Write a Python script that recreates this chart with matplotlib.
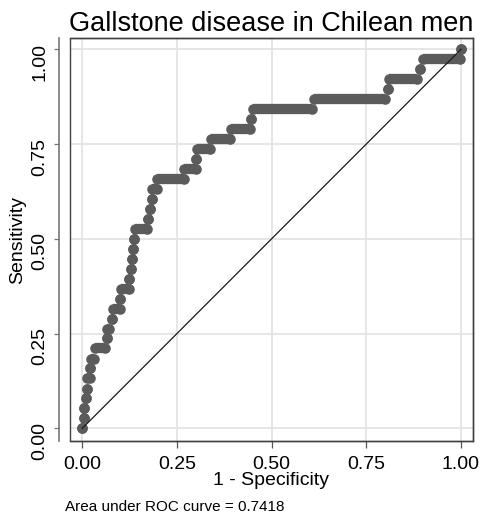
import matplotlib
matplotlib.use("Agg")
import matplotlib.pyplot as plt
from matplotlib.patches import Rectangle

plt.rcParams['font.family'] = ['Liberation Sans', 'DejaVu Sans']

# ROC points: one row per sensitivity level, with the 1-specificity span at that level
sensitivity = [0.000, 0.026, 0.053, 0.079, 0.105, 0.132, 0.158, 0.184, 0.211, 0.237,
               0.263, 0.289, 0.316, 0.342, 0.368, 0.395, 0.421, 0.447, 0.474, 0.500,
               0.526, 0.553, 0.579, 0.605, 0.632, 0.658, 0.684, 0.711, 0.737, 0.763,
               0.789, 0.816, 0.842, 0.868, 0.895, 0.921, 0.947, 0.974, 1.000]
fpr_start = [0.000, 0.004, 0.005, 0.009, 0.012, 0.013, 0.020, 0.024, 0.034, 0.066,
             0.066, 0.079, 0.080, 0.100, 0.103, 0.124, 0.128, 0.132, 0.135, 0.137,
             0.138, 0.173, 0.178, 0.183, 0.184, 0.197, 0.268, 0.301, 0.303, 0.340,
             0.393, 0.446, 0.451, 0.611, 0.806, 0.809, 0.893, 0.899, 1.000]
fpr_end = [0.000, 0.004, 0.005, 0.009, 0.012, 0.019, 0.020, 0.031, 0.061, 0.066,
           0.070, 0.079, 0.100, 0.100, 0.124, 0.124, 0.128, 0.132, 0.135, 0.137,
           0.171, 0.173, 0.178, 0.183, 0.196, 0.268, 0.300, 0.301, 0.338, 0.390,
           0.443, 0.446, 0.607, 0.800, 0.806, 0.884, 0.893, 0.998, 1.000]
ref_line = [0, 1]
ticks = [0.00, 0.25, 0.50, 0.75, 1.00]
tick_labels = ['0.00', '0.25', '0.50', '0.75', '1.00']
auc_text = 'Area under ROC curve = 0.7418'

dot = '#5b5b5b'
fig = plt.figure(figsize=(4.82, 5.17), dpi=100)
ax = fig.add_axes([70/482, 76/517, 402.7/482, 402.7/517])

ax.grid(True, color='#e2e2e2', linewidth=1.2)
ax.set_axisbelow(True)

# thick runs for horizontal steps, then dots at the ends
ax.hlines(sensitivity, fpr_start, fpr_end, colors=dot, linewidth=7.4, zorder=3)
ax.plot(fpr_start, sensitivity, 'o', color=dot, ms=7.6, mec='none', zorder=3)
ax.plot(fpr_end, sensitivity, 'o', color=dot, ms=7.6, mec='none', zorder=3)
ax.plot(ref_line, ref_line, color='#1a1a1a', linewidth=0.9, zorder=4)

ax.set_xlim(-0.0325, 1.031)
ax.set_ylim(-0.0335, 1.029)
ax.set_xticks(ticks)
ax.set_xticklabels(tick_labels)
ax.set_yticks(ticks)
ax.set_yticklabels(tick_labels, va='center')
ax.tick_params(axis='x', length=5, width=0.9, color='#555555', pad=6, labelsize=14)
ax.tick_params(axis='y', length=3.5, width=0.9, color='#777777', pad=4, labelsize=14,
               labelrotation=90)

for s in ['top', 'right', 'bottom']:
    ax.spines[s].set_color('#404040')
    ax.spines[s].set_linewidth(1.0)
ax.spines['left'].set_position(('outward', 8))
ax.spines['left'].set_color('#777777')
ax.spines['left'].set_linewidth(1.2)
ax.add_patch(Rectangle((0, 0), 1, 1, transform=ax.transAxes, fill=False,
                       edgecolor='#404040', linewidth=1.0, clip_on=False, zorder=5))

ax.set_xlabel('1 - Specificity', fontsize=14, labelpad=-1)
ax.set_ylabel('Sensitivity', fontsize=14, labelpad=4)
ax.set_title('Gallstone disease in Chilean men', fontsize=19.5, pad=5)
fig.text(65/482, 1 - 507/517, auc_text, fontsize=11, va='center', ha='left')

fig.savefig('out.png', dpi=100)
